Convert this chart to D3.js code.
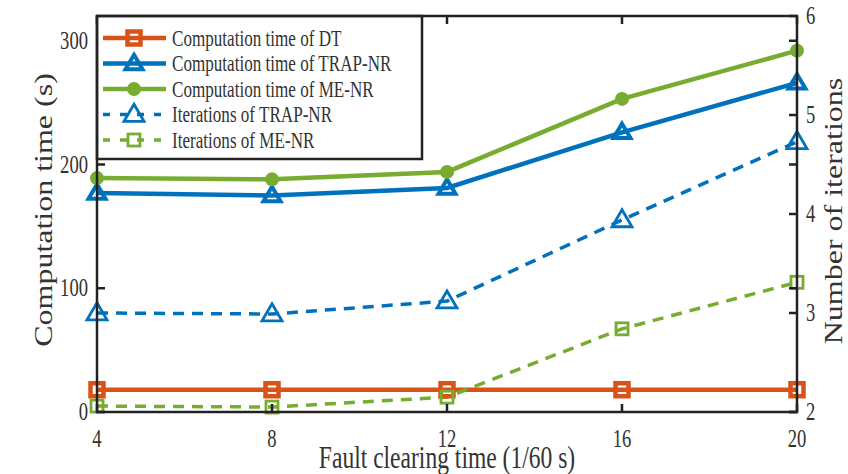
<!DOCTYPE html>
<html><head><meta charset="utf-8">
<script src="https://cdn.jsdelivr.net/npm/d3@7"></script>
<style>body{margin:0;background:#fff}svg{display:block}text{font-family:"Liberation Serif","Times New Roman",serif;fill:#333}</style>
</head><body>
<svg id="c" width="848" height="474"></svg>
<script>
const xVals = [4, 8, 12, 16, 20];
const dtTime = [18, 18, 18, 18, 18];
const trapTime = [177, 175, 181, 226, 266];
const meTime = [189, 188, 194, 253, 292];
const trapIter = [3.00, 2.99, 3.12, 3.94, 4.73];
const meIter = [2.06, 2.05, 2.15, 2.84, 3.31];
const xTicks = [4, 8, 12, 16, 20];
const yLeftTicks = [0, 100, 200, 300];
const yRightTicks = [2, 3, 4, 5, 6];
const legendLabels = ["Computation time of DT", "Computation time of TRAP-NR", "Computation time of ME-NR", "Iterations of TRAP-NR", "Iterations of ME-NR"];

const C = {o: "#D95319", b: "#0072BD", g: "#77AC30"};
const SQ = 0.76;
const L = 97, R = 797, T = 16, B = 412;
const svg = d3.select("#c");
const x = d3.scaleLinear().domain([4, 20]).range([L, R]);
const yL = d3.scaleLinear().domain([0, 320]).range([B, T]);
const yR = d3.scaleLinear().domain([2, 6]).range([B, T]);

function txt(s, px, py, size, anchor, rot) {
  const t = svg.append("text").text(s).attr("font-size", size).attr("text-anchor", anchor || "start");
  t.attr("transform", rot ? `translate(${px},${py}) rotate(-90) scale(1,${SQ})` : `translate(${px},${py}) scale(${SQ},1)`);
  return t;
}

const series = [
  {v: dtTime, y: yL, c: C.o, w: 4.5, dash: null, m: "sq", ms: 13, mw: 4.5},
  {v: trapTime, y: yL, c: C.b, w: 4.5, dash: null, m: "tri", ms: 17, mw: 4},
  {v: meTime, y: yL, c: C.g, w: 4.5, dash: null, m: "circ", ms: 7, mw: 1},
  {v: trapIter, y: yR, c: C.b, w: 3.5, dash: "11,8", m: "tri", ms: 20, mw: 2.8},
  {v: meIter, y: yR, c: C.g, w: 3.5, dash: "11,8", m: "sq", ms: 12, mw: 2.8}
];

function marker(g, m, cx, cy, s, c, w) {
  if (m === "sq") {
    g.append("rect").attr("x", cx - s/2).attr("y", cy - s/2).attr("width", s).attr("height", s)
      .attr("fill", "none").attr("stroke", c).attr("stroke-width", w);
  } else if (m === "tri") {
    const h = s * 0.85;
    g.append("path").attr("d", `M${cx},${cy - h*0.6}L${cx + s/2},${cy + h*0.4}L${cx - s/2},${cy + h*0.4}Z`)
      .attr("fill", "none").attr("stroke", c).attr("stroke-width", w).attr("stroke-linejoin", "miter");
  } else {
    g.append("circle").attr("cx", cx).attr("cy", cy).attr("r", s).attr("fill", c);
  }
}

const plot = svg.append("g");
series.forEach(s => {
  const line = d3.line().x((d, i) => x(xVals[i])).y(d => s.y(d));
  plot.append("path").attr("d", line(s.v)).attr("fill", "none").attr("stroke", s.c)
    .attr("stroke-width", s.w).attr("stroke-dasharray", s.dash);
});
series.forEach(s => {
  s.v.forEach((d, i) => marker(plot, s.m, x(xVals[i]), s.y(d), s.ms, s.c, s.mw));
});

// ticks
const tk = svg.append("g").attr("stroke", "#222").attr("stroke-width", 2.5);
xTicks.forEach(t => {
  tk.append("line").attr("x1", x(t)).attr("x2", x(t)).attr("y1", B).attr("y2", B - 8);
  tk.append("line").attr("x1", x(t)).attr("x2", x(t)).attr("y1", T).attr("y2", T + 8);
});
yLeftTicks.forEach(t => {
  tk.append("line").attr("x1", L).attr("x2", L + 8).attr("y1", yL(t)).attr("y2", yL(t));
  tk.append("line").attr("x1", R).attr("x2", R - 8).attr("y1", yL(t)).attr("y2", yL(t));
});
yRightTicks.forEach(t => {
  tk.append("line").attr("x1", R).attr("x2", R - 8).attr("y1", yR(t)).attr("y2", yR(t));
});

// legend
const lg = svg.append("g");
lg.append("rect").attr("x", L).attr("y", T).attr("width", 325).attr("height", 143)
  .attr("fill", "#fff").attr("stroke", "#222").attr("stroke-width", 2.5);
legendLabels.forEach((lab, i) => {
  const s = series[i];
  const yy = T + 22 + i * 25.5;
  lg.append("line").attr("x1", 103).attr("x2", 166).attr("y1", yy).attr("y2", yy)
    .attr("stroke", s.c).attr("stroke-width", s.w).attr("stroke-dasharray", s.dash ? "7,10" : null);
  marker(lg, s.m, 134, yy, s.ms, s.c, s.mw);
  lg.append("text").text(lab).attr("font-size", 22.5).attr("dy", "0.35em")
    .attr("transform", `translate(172,${yy}) scale(${SQ},1)`);
});

// frame
svg.append("rect").attr("x", L).attr("y", T).attr("width", R - L).attr("height", B - T)
  .attr("fill", "none").attr("stroke", "#222").attr("stroke-width", 2.5);

// tick labels
xTicks.forEach(t => txt(t, x(t), 447, 24.5, "middle"));
yLeftTicks.forEach(t => txt(t, 88, yL(t) + 8, 24.5, "end"));
yRightTicks.forEach(t => txt(t, 806, yR(t) + 8, 24.5, "start"));

// axis titles
txt("Fault clearing time (1/60 s)", 447, 468, 31, "middle");
txt("Computation time (s)", 52, 210, 32, "middle", true);
txt("Number of iterations", 842, 211, 32, "middle", true);
</script>
</body></html>
